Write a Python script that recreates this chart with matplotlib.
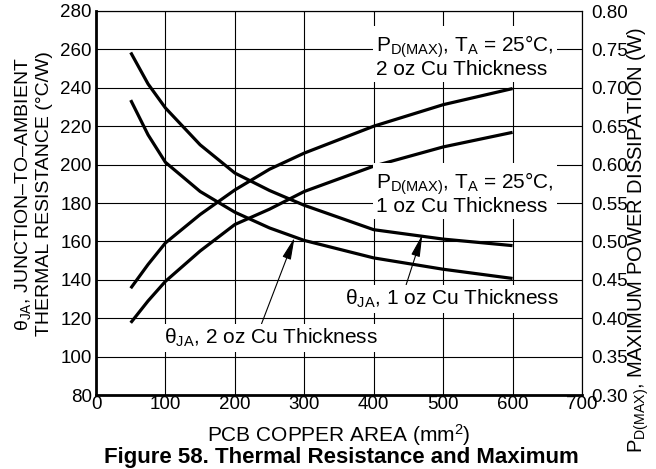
import matplotlib
matplotlib.use("Agg")
from matplotlib import pyplot as plt

plt.rcParams["font.family"] = ["Liberation Sans", "DejaVu Sans"]
plt.rcParams["mathtext.fontset"] = "custom"
plt.rcParams["mathtext.rm"] = "Liberation Sans"
plt.rcParams["mathtext.it"] = "Liberation Sans:italic"

# copper area in mm^2
area = [50, 75, 100, 150, 200, 250, 300, 400, 500, 600]
# thermal resistance, degC/W
theta_1oz = [258.4, 242.0, 229.5, 210.3, 195.6, 186.5, 178.8, 166.1, 161.2, 157.8]
theta_2oz = [233.6, 215.5, 201.2, 186.0, 175.2, 167.0, 160.5, 151.4, 145.5, 140.7]
# max power dissipation, W
pd_2oz = [0.439, 0.470, 0.498, 0.535, 0.567, 0.594, 0.615, 0.650, 0.678, 0.699]
pd_1oz = [0.394, 0.4225, 0.448, 0.4875, 0.522, 0.542, 0.565, 0.598, 0.623, 0.642]

x_ticks = list(range(0, 701, 100))
theta_ticks = list(range(80, 281, 20))
pd_ticks = [0.30, 0.35, 0.40, 0.45, 0.50, 0.55, 0.60, 0.65, 0.70, 0.75, 0.80]

fig = plt.figure(figsize=(6.56, 4.69), dpi=100)
ax = fig.add_axes([96 / 656, 74 / 469, 486 / 656, 384 / 469])
ax2 = ax.twinx()

ax.set_xlim(0, 700)
ax.set_ylim(80, 280)
ax2.set_ylim(0.30, 0.80)
ax.set_xticks(x_ticks)
ax.set_yticks(theta_ticks)
ax2.set_yticks(pd_ticks)
ax2.set_yticklabels([f"{v:.2f}" for v in pd_ticks])

ax.grid(True, color="black", lw=0.8)
ax.set_axisbelow(True)
ax.tick_params(axis="both", length=0, labelsize=13.5)
ax.tick_params(axis="x", pad=1)
ax.tick_params(axis="y", pad=3)
ax2.tick_params(axis="y", length=0, labelsize=13.5, pad=7)

for side in ["left", "bottom"]:
    ax.spines[side].set_linewidth(2)
for side in ["top", "right"]:
    ax.spines[side].set_linewidth(0.8)
    ax2.spines[side].set_linewidth(0.8)
ax2.spines["left"].set_visible(False)
ax2.spines["bottom"].set_visible(False)

ax.plot(area, theta_1oz, color="black", lw=2.3, solid_capstyle="butt")
ax.plot(area, theta_2oz, color="black", lw=2.3, solid_capstyle="butt")
ax2.plot(area, pd_2oz, color="black", lw=2.3, solid_capstyle="butt")
ax2.plot(area, pd_1oz, color="black", lw=2.3, solid_capstyle="butt")

# labels sit on white boxes that break the grid
box = dict(boxstyle="square,pad=0.15", fc="white", ec="none")
ax2.text(403, 256.5, "P$_{\\rm D(MAX)}$, T$_{\\rm A}$ = 25°C,\n2 oz Cu Thickness",
         transform=ax.transData, fontsize=15, ha="left", va="center",
         linespacing=1.0, bbox=box, zorder=5)
ax2.text(404, 185.0, "P$_{\\rm D(MAX)}$, T$_{\\rm A}$ = 25°C,\n1 oz Cu Thickness",
         transform=ax.transData, fontsize=15, ha="left", va="center",
         linespacing=1.0, bbox=box, zorder=5)

arrow = dict(arrowstyle="-|>,head_length=0.9,head_width=0.18", color="black",
             lw=0.8, shrinkA=0, shrinkB=0)
ax2.annotate("θ$_{\\rm JA}$, 1 oz Cu Thickness", xy=(470, 163.5),
             xytext=(359, 130.0), xycoords=ax.transData, textcoords=ax.transData,
             fontsize=15, ha="left", va="center", bbox=box, zorder=5,
             arrowprops=dict(arrow, relpos=(0.28, 1.0)))
ax2.annotate("θ$_{\\rm JA}$, 2 oz Cu Thickness", xy=(286, 162.0),
             xytext=(98, 109.6), xycoords=ax.transData, textcoords=ax.transData,
             fontsize=15, ha="left", va="center", bbox=box, zorder=5,
             arrowprops=dict(arrow, relpos=(0.45, 1.0)))

fig.text(33 / 656, 1 - 194 / 469,
         "θ$_{\\rm JA}$, JUNCTION–TO–AMBIENT\nTHERMAL RESISTANCE (°C/W)",
         rotation=90, ha="center", va="center", fontsize=14, linespacing=1.3)
fig.text(638 / 656, 1 - 240 / 469,
         "P$_{\\rm D(MAX)}$, MAXIMUM POWER DISSIPATION (W)",
         rotation=90, ha="center", va="center", fontsize=14.5)
fig.text(339 / 656, 1 - 435 / 469, "PCB COPPER AREA (mm$^{2}$)",
         ha="center", va="center", fontsize=15)
fig.text(341 / 656, 1 - 457 / 469, "Figure 58. Thermal Resistance and Maximum",
         ha="center", va="center", fontsize=16, fontweight="bold")

fig.savefig("out.png", dpi=100)
